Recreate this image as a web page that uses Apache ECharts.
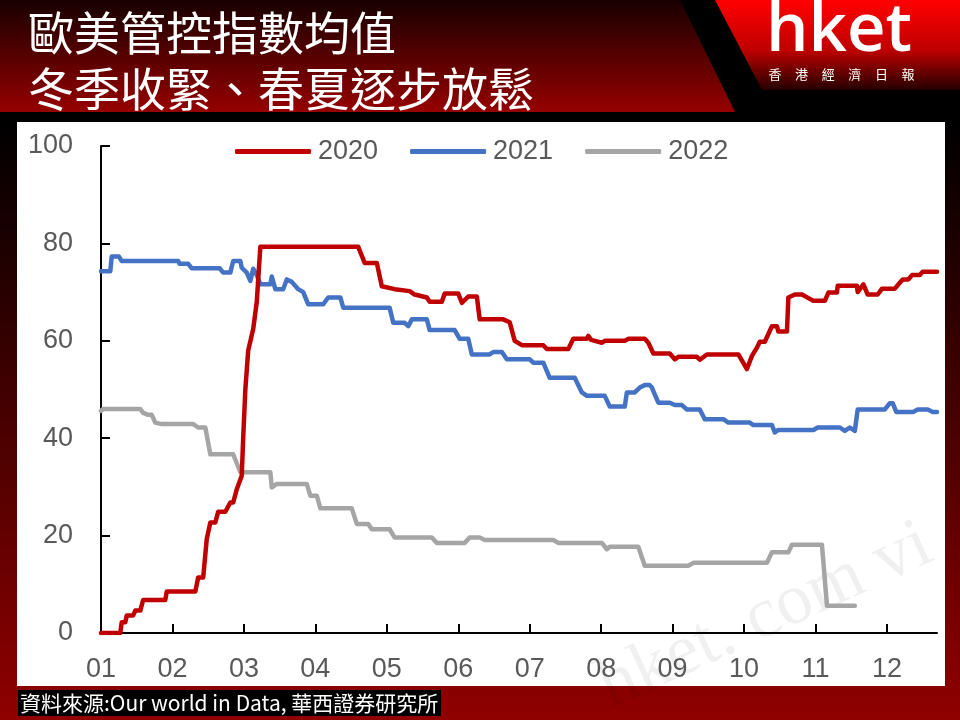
<!DOCTYPE html>
<html><head><meta charset="utf-8">
<script src="https://cdn.jsdelivr.net/npm/echarts@6/dist/echarts.min.js"></script>
<style>html,body{margin:0;padding:0;background:#000}#c{width:960px;height:720px}</style>
</head><body><div id="c"></div>
<script>
const titleLines = ['歐美管控指數均值', '冬季收緊、春夏逐步放鬆'];
const sourceText = '資料來源:Our world in Data, 華西證券研究所';
const logoText = 'hket';
const logoSub = ['香', '港', '經', '濟', '日', '報'];
const watermarkText = 'hket. com vi';
const monthLabels = ['01', '02', '03', '04', '05', '06', '07', '08', '09', '10', '11', '12'];
const monthTicks = [0, 1, 2, 3, 4, 5, 6, 7, 8, 9, 10, 11];
const seriesNames = ['2020', '2021', '2022'];
const seriesColors = ['#c00000', '#4472c4', '#a5a5a5'];

// [month offset from Jan 1, index value]
const data2020 = [[0,0],[0.27,0],[0.29,2.2],[0.34,2.2],[0.36,3.6],[0.45,3.6],[0.48,4.6],[0.55,4.6],[0.59,6.8],[0.90,6.8],[0.92,8.5],[1.32,8.5],[1.36,11.4],[1.43,11.4],[1.48,19.3],[1.53,22.7],[1.60,22.7],[1.64,24.9],[1.74,24.9],[1.81,26.8],[1.85,26.8],[1.90,29.5],[1.97,32.3],[1.99,40],[2.02,50],[2.06,58],[2.13,62.4],[2.18,68],[2.23,79.3],[3.60,79.3],[3.69,76],[3.86,76],[3.93,71.2],[4.11,70.6],[4.32,70.2],[4.39,69.5],[4.56,68.9],[4.60,68.0],[4.77,68.0],[4.81,69.7],[5.00,69.7],[5.05,67.8],[5.14,69.1],[5.26,69.1],[5.30,64.4],[5.63,64.4],[5.72,63.8],[5.79,60],[5.89,59.1],[6.19,59.1],[6.24,58.3],[6.54,58.3],[6.61,60.4],[6.80,60.4],[6.82,61],[6.86,60.2],[7.01,59.6],[7.05,60],[7.33,60],[7.38,60.4],[7.61,60.4],[7.66,59.6],[7.73,57.4],[7.96,57.4],[8.03,56.2],[8.08,56.7],[8.34,56.7],[8.38,56.1],[8.48,57.2],[8.92,57.2],[9.04,54.2],[9.11,56.9],[9.18,58.6],[9.22,59.8],[9.29,59.8],[9.39,63],[9.46,63],[9.48,61.9],[9.60,61.9],[9.62,68.9],[9.71,69.5],[9.81,69.5],[9.97,68.2],[10.13,68.2],[10.18,69.9],[10.30,69.9],[10.31,71.3],[10.58,71.3],[10.59,70],[10.67,71.6],[10.73,69.5],[10.87,69.5],[10.93,70.7],[11.11,70.7],[11.16,71.6],[11.22,72.6],[11.30,72.6],[11.35,73.5],[11.46,73.5],[11.50,74.2],[11.70,74.2]];
const data2021 = [[0,74.3],[0.13,74.3],[0.15,77.3],[0.25,77.3],[0.29,76.4],[1.08,76.4],[1.10,75.8],[1.22,75.8],[1.27,74.9],[1.66,74.9],[1.71,74.0],[1.81,74.0],[1.85,76.4],[1.95,76.4],[1.97,75],[2.04,74],[2.09,72.3],[2.13,74.8],[2.18,73.5],[2.23,71.6],[2.37,71.6],[2.39,73.2],[2.44,70.6],[2.55,70.6],[2.60,72.6],[2.67,72.1],[2.76,70.6],[2.83,70],[2.90,67.5],[3.11,67.5],[3.18,68.9],[3.35,68.9],[3.39,66.8],[4.04,66.8],[4.09,63.7],[4.25,63.7],[4.30,63.0],[4.35,64.4],[4.56,64.4],[4.60,62.2],[4.95,62.2],[5.02,60.4],[5.14,60.4],[5.19,57.2],[5.44,57.2],[5.49,57.7],[5.61,57.7],[5.68,56.2],[6.00,56.2],[6.05,55.5],[6.19,55.5],[6.28,52.4],[6.63,52.4],[6.73,49.4],[6.80,48.7],[7.05,48.7],[7.12,46.5],[7.33,46.5],[7.36,49.4],[7.47,49.4],[7.54,50.4],[7.61,50.9],[7.68,50.9],[7.71,50.4],[7.75,49],[7.80,47.3],[7.96,47.3],[8.03,46.8],[8.13,46.8],[8.20,45.9],[8.38,45.9],[8.45,43.9],[8.71,43.9],[8.78,43.2],[9.08,43.2],[9.13,42.7],[9.39,42.7],[9.43,41.2],[9.48,41.7],[9.97,41.7],[10.03,42.2],[10.34,42.2],[10.41,41.5],[10.48,42.2],[10.55,41.5],[10.59,45.9],[10.97,45.9],[11.04,47.2],[11.08,47.2],[11.13,45.4],[11.37,45.4],[11.43,45.9],[11.57,45.9],[11.64,45.4],[11.70,45.4]];
const data2022 = [[0,45.6],[0.03,46],[0.55,46],[0.59,45.2],[0.66,44.8],[0.71,44.8],[0.76,43.2],[0.85,42.9],[1.29,42.9],[1.36,42.2],[1.46,42.2],[1.53,36.7],[1.85,36.7],[1.95,33.0],[2.37,33.0],[2.39,29.9],[2.46,30.6],[2.88,30.6],[2.93,28.2],[3.02,28.2],[3.07,25.6],[3.51,25.6],[3.58,22.4],[3.74,22.4],[3.79,21.3],[4.04,21.3],[4.11,19.6],[4.63,19.6],[4.70,18.5],[5.09,18.5],[5.16,19.6],[5.30,19.6],[5.37,19.1],[6.33,19.1],[6.40,18.5],[7.01,18.5],[7.08,17.2],[7.12,17.7],[7.52,17.7],[7.61,13.8],[8.22,13.8],[8.29,14.4],[9.32,14.4],[9.39,16.6],[9.62,16.6],[9.67,18.1],[10.09,18.1],[10.16,5.6],[10.55,5.6]];
const seriesData = [data2020, data2021, data2022];

const chart = echarts.init(document.getElementById('c'), null, {renderer: 'canvas'});
const FONT = '"Liberation Sans", Arial, sans-serif';
const CJK = '"Noto Sans CJK TC", "Noto Sans CJK SC", sans-serif';

const graphics = [
  {type: 'rect', z: -20, shape: {x: 0, y: 0, width: 960, height: 720},
   style: {fill: new echarts.graphic.LinearGradient(0, 0, 0, 1, [
     {offset: 0, color: '#000000'}, {offset: 0.17, color: '#000000'}, {offset: 1, color: '#900000'}])}},
  {type: 'polygon', z: -19, shape: {points: [[0, 0], [680, 0], [735, 112], [0, 112]]},
   style: {fill: new echarts.graphic.LinearGradient(0, 0, 0, 1, [
     {offset: 0, color: '#180000'}, {offset: 1, color: '#960000'}])}},
  {type: 'polygon', z: -19, shape: {points: [[715, 0], [960, 0], [960, 90], [762, 90]]},
   style: {fill: new echarts.graphic.LinearGradient(0, 0, 0, 1, [
     {offset: 0, color: '#ff0000'}, {offset: 0.55, color: '#c00000'}, {offset: 1, color: '#250000'}])}},
  {type: 'rect', z: -18, shape: {x: 17, y: 122, width: 928, height: 564}, style: {fill: '#ffffff'}},
  {type: 'text', z: -17, x: 618, y: 724, rotation: 0.43,
   style: {text: watermarkText, fill: 'rgba(0,0,0,0.06)', font: '72px "Liberation Serif", serif', textVerticalAlign: 'bottom'}},
  {type: 'text', z: 10, x: 28, y: 33, style: {text: titleLines[0], fill: '#ffffff', font: '46px ' + CJK, textVerticalAlign: 'middle'}},
  {type: 'text', z: 10, x: 28, y: 89, style: {text: titleLines[1], fill: '#ffffff', font: '46px ' + CJK, textVerticalAlign: 'middle'}},
  {type: 'text', z: 10, x: 766, y: 32, style: {text: logoText, fill: '#ffffff', font: '600 67px "Open Sans", sans-serif', textVerticalAlign: 'middle'}},
  {type: 'rect', z: 5, shape: {x: 18, y: 690, width: 423, height: 26}, style: {fill: '#000000'}},
  {type: 'text', z: 10, x: 20, y: 703, style: {text: sourceText, fill: '#ffffff', font: '21px ' + CJK, textVerticalAlign: 'middle'}}
];
logoSub.forEach((ch, i) => {
  graphics.push({type: 'text', z: 10, x: 775 + i * 26.6, y: 74,
    style: {text: ch, fill: '#ffffff', font: '13px ' + CJK, textAlign: 'center', textVerticalAlign: 'middle'}});
});

chart.setOption({
  animation: false,
  graphic: graphics,
  grid: {left: 101, right: 23, top: 146, bottom: 87, containLabel: false},
  legend: {
    left: 230, top: 133, itemWidth: 76, itemHeight: 5, itemGap: 32, icon: 'roundRect',
    textStyle: {fontFamily: FONT, fontSize: 27, color: '#595959', padding: [0, 0, 0, 2]},
    data: seriesNames
  },
  xAxis: {
    type: 'value', min: 0, max: 11.7, interval: 1,
    axisLine: {show: true, lineStyle: {color: '#000', width: 2}},
    axisTick: {show: true, inside: true, length: 9, customValues: monthTicks, lineStyle: {color: '#000', width: 2}},
    axisLabel: {customValues: monthTicks, margin: 23, fontFamily: FONT, fontSize: 27, color: '#595959',
      formatter: v => Number.isInteger(v) ? monthLabels[v] : ''},
    splitLine: {show: false}
  },
  yAxis: {
    type: 'value', min: 0, max: 100, interval: 20,
    axisLine: {show: true, lineStyle: {color: '#000', width: 2}},
    axisTick: {show: true, inside: true, length: 9, lineStyle: {color: '#000', width: 2}},
    axisLabel: {margin: 28, fontFamily: FONT, fontSize: 27, color: '#595959'},
    splitLine: {show: false}
  },
  series: seriesNames.map((n, i) => ({
    name: n, type: 'line', data: seriesData[i], showSymbol: false, symbol: 'none',
    color: seriesColors[i],
    lineStyle: {width: 4.5, color: seriesColors[i], cap: 'round', join: 'round'},
    z: 3 + (2 - i)
  }))
});
</script>
</body></html>
